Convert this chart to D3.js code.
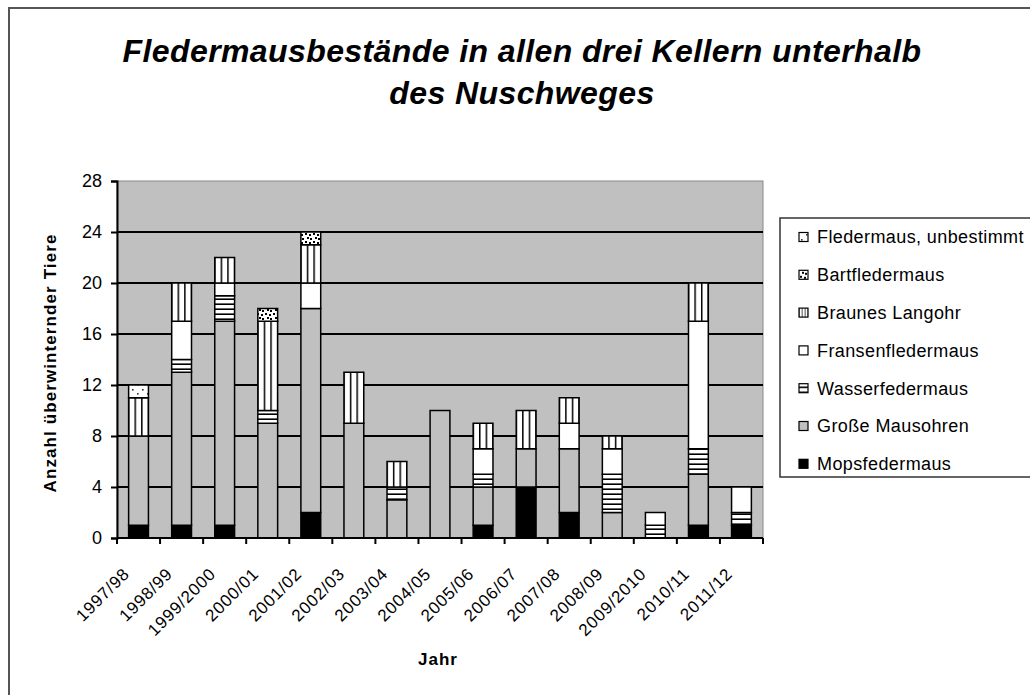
<!DOCTYPE html>
<html>
<head>
<meta charset="utf-8">
<script src="https://cdnjs.cloudflare.com/ajax/libs/d3/7.8.5/d3.min.js"></script>
<style>
  body { margin: 0; background: #fff; }
  #chart { width: 1030px; height: 695px; }
  text { font-family: "Liberation Sans", Arial, sans-serif; fill: #000; }
</style>
</head>
<body>
<div id="chart"><svg></svg></div>
<script>
// data
var years = ["1997/98", "1998/99", "1999/2000", "2000/01", "2001/02", "2002/03", "2003/04",
    "2004/05", "2005/06", "2006/07", "2007/08", "2008/09", "2009/2010", "2010/11", "2011/12"];

var mops       = [1, 1, 1, 0, 2, 0, 0, 0, 1, 4, 2, 0, 0, 1, 1];
var mausohren  = [7, 12, 16, 9, 16, 9, 3, 10, 3, 3, 5, 2, 0, 4, 0];
var wasser     = [0, 1, 2, 1, 0, 0, 1, 0, 1, 0, 0, 3, 1, 2, 1];
var fransen    = [0, 3, 1, 0, 2, 0, 0, 0, 2, 0, 2, 2, 1, 10, 2];
var langohr    = [3, 3, 2, 7, 3, 4, 2, 0, 2, 3, 2, 1, 0, 3, 0];
var bart       = [0, 0, 0, 1, 1, 0, 0, 0, 0, 0, 0, 0, 0, 0, 0];
var unbestimmt = [1, 0, 0, 0, 0, 0, 0, 0, 0, 0, 0, 0, 0, 0, 0];

// bottom to top of each bar
var seriesNames = ["Mopsfedermaus", "Große Mausohren", "Wasserfedermaus", "Fransenfledermaus",
    "Braunes Langohr", "Bartfledermaus", "Fledermaus, unbestimmt"];
var seriesValues = [mops, mausohren, wasser, fransen, langohr, bart, unbestimmt];
var yTicks = [0, 4, 8, 12, 16, 20, 24, 28];

var fills = ["#000", "#c0c0c0", "url(#p-wasser)", "#fff", "url(#p-langohr)", "url(#p-bart)", "url(#p-unbest)"];

var svg = d3.select("#chart svg").attr("width", 1030).attr("height", 695),
    plot = { left: 117, right: 763, top: 181, bottom: 538 };

// build rows for d3.stack
var table = years.map(function (yr, i) {
    var row = { year: yr };
    seriesNames.forEach(function (s, k) { row[s] = seriesValues[k][i]; });
    return row;
});
var stacked = d3.stack().keys(seriesNames)(table);

var x = d3.scaleBand().domain(years).range([plot.left, plot.right])
        .paddingInner(0.54).paddingOuter(0.27),
    y = d3.scaleLinear().domain([0, 28]).range([plot.bottom, plot.top]);

// patterns
var defs = svg.append("defs");

var pw = defs.append("pattern").attr("id", "p-wasser")
    .attr("patternUnits", "userSpaceOnUse").attr("width", 8).attr("height", 5);
pw.append("rect").attr("width", 8).attr("height", 5).attr("fill", "#fff");
pw.append("rect").attr("y", 3.4).attr("width", 8).attr("height", 1.6).attr("fill", "#000");

var pl = defs.append("pattern").attr("id", "p-langohr")
    .attr("patternUnits", "objectBoundingBox").attr("patternContentUnits", "objectBoundingBox")
    .attr("x", -0.0375).attr("width", 1 / 3).attr("height", 1);
pl.append("rect").attr("width", 1 / 3).attr("height", 1).attr("fill", "#fff");
pl.append("rect").attr("width", 0.075).attr("height", 1).attr("fill", "#000");

var pb = defs.append("pattern").attr("id", "p-bart")
    .attr("patternUnits", "userSpaceOnUse").attr("width", 8).attr("height", 8);
pb.append("rect").attr("width", 8).attr("height", 8).attr("fill", "#fff");
[[1, 1], [5, 2], [3, 5], [6, 6]].forEach(function (p) {
    pb.append("rect").attr("x", p[0]).attr("y", p[1]).attr("width", 2).attr("height", 2).attr("fill", "#000");
});

var pu = defs.append("pattern").attr("id", "p-unbest")
    .attr("patternUnits", "userSpaceOnUse").attr("width", 10).attr("height", 9);
pu.append("rect").attr("width", 10).attr("height", 9).attr("fill", "#fff");
[[2, 2], [7, 6]].forEach(function (p) {
    pu.append("rect").attr("x", p[0]).attr("y", p[1]).attr("width", 1.6).attr("height", 1.6).attr("fill", "#333");
});

// outer frame (runs off the right and bottom edge)
svg.append("rect").attr("x", 9).attr("y", 8).attr("width", 1040).attr("height", 700)
    .attr("fill", "none").attr("stroke", "#555").attr("stroke-width", 2);

// title
var title = svg.append("text").attr("text-anchor", "middle")
    .style("font-size", "32px").style("font-weight", "bold").style("font-style", "italic")
    .style("letter-spacing", "0.4px");
title.append("tspan").attr("x", 522).attr("y", 62).text("Fledermausbestände in allen drei Kellern unterhalb");
title.append("tspan").attr("x", 522).attr("y", 104).text("des Nuschweges");

// plot area
svg.append("rect").attr("x", plot.left).attr("y", plot.top)
    .attr("width", plot.right - plot.left).attr("height", plot.bottom - plot.top)
    .attr("fill", "#c0c0c0").attr("stroke", "#888").attr("stroke-width", 1);

svg.append("g").selectAll("line").data(yTicks.filter(function (d) { return d > 0 && d < 28; }))
    .enter().append("line")
    .attr("x1", plot.left).attr("x2", plot.right)
    .attr("y1", function (d) { return y(d); }).attr("y2", function (d) { return y(d); })
    .attr("stroke", "#000").attr("stroke-width", 2);

// bars
var layers = svg.append("g").selectAll("g").data(stacked).enter().append("g")
    .attr("fill", function (d, i) { return fills[i]; });

layers.selectAll("rect")
    .data(function (d) { return d.filter(function (s) { return s[1] - s[0] > 0; }); })
    .enter().append("rect")
    .attr("x", function (d) { return x(d.data.year); })
    .attr("width", x.bandwidth())
    .attr("y", function (d) { return y(d[1]); })
    .attr("height", function (d) { return y(d[0]) - y(d[1]); })
    .attr("stroke", "#000").attr("stroke-width", 1.5);

// y axis
var yAxis = svg.append("g").attr("transform", "translate(" + plot.left + ",0)")
    .call(d3.axisLeft(y).tickValues(yTicks).tickSize(6).tickPadding(9));
yAxis.select(".domain").attr("stroke", "#000").attr("stroke-width", 2);
yAxis.selectAll(".tick line").attr("stroke", "#000").attr("stroke-width", 2);
yAxis.selectAll(".tick text").style("font-size", "18px").style("font-family", "Liberation Sans, Arial, sans-serif");

// x axis: ticks sit between the categories
var bounds = years.map(function (d) { return x(d) - x.step() * x.paddingInner() / 2; }).concat([plot.right]);
bounds[0] = plot.left;
svg.append("line").attr("x1", plot.left).attr("x2", plot.right)
    .attr("y1", plot.bottom).attr("y2", plot.bottom).attr("stroke", "#000").attr("stroke-width", 2);
svg.append("g").selectAll("line").data(bounds).enter().append("line")
    .attr("x1", function (d) { return d; }).attr("x2", function (d) { return d; })
    .attr("y1", plot.bottom).attr("y2", plot.bottom + 6)
    .attr("stroke", "#000").attr("stroke-width", 2);

svg.append("g").selectAll("text").data(years).enter().append("text")
    .attr("transform", function (d) {
        return "translate(" + (x(d) + x.bandwidth() / 2 - 8) + "," + 575 + ") rotate(-45)";
    })
    .attr("text-anchor", "end")
    .style("font-size", "17px").style("letter-spacing", "0.8px")
    .text(function (d) { return d; });

// axis titles
svg.append("text").attr("transform", "translate(56,363) rotate(-90)")
    .attr("text-anchor", "middle").style("font-size", "17px").style("font-weight", "bold")
    .style("letter-spacing", "1.1px").text("Anzahl überwinternder Tiere");

svg.append("text").attr("x", 438).attr("y", 665).attr("text-anchor", "middle")
    .style("font-size", "17px").style("font-weight", "bold").style("letter-spacing", "1px").text("Jahr");

// legend, top entry is the top of the stack
var legend = svg.append("g");
legend.append("rect").attr("x", 780).attr("y", 218).attr("width", 270).attr("height", 259)
    .attr("fill", "#fff").attr("stroke", "#333").attr("stroke-width", 1.5);

var legendItems = legend.selectAll(".item")
    .data(d3.range(seriesNames.length).reverse())
    .enter().append("g").attr("class", "item")
    .attr("transform", function (d, i) { return "translate(799," + (237 + i * 37.8) + ")"; });

legendItems.append("rect").attr("x", 0).attr("y", -4.5).attr("width", 9).attr("height", 9)
    .attr("fill", function (d) { return fills[d]; })
    .attr("stroke", "#000").attr("stroke-width", 1.2);

legendItems.append("text").attr("x", 18).attr("dy", "0.35em")
    .style("font-size", "18px").style("letter-spacing", "0.4px")
    .text(function (d) { return seriesNames[d]; });
</script>
</body>
</html>
